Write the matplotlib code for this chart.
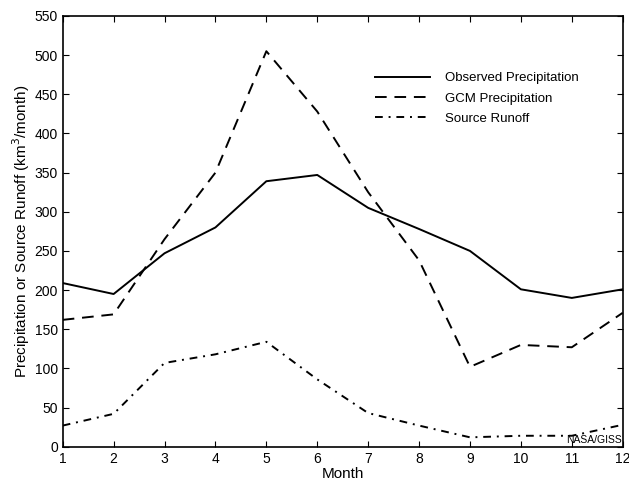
import matplotlib
matplotlib.use("Agg")
import matplotlib.pyplot as plt

plt.rcParams['font.family'] = ['Liberation Sans', 'DejaVu Sans']

months = list(range(1, 13))
observed = [209, 195, 247, 280, 339, 347, 305, 278, 250, 201, 190, 201]
gcm = [162, 169, 265, 350, 505, 428, 325, 238, 102, 130, 127, 171]
runoff = [27, 42, 107, 118, 134, 86, 43, 27, 12, 14, 14, 28]

fig = plt.figure(figsize=(6.29, 4.84), dpi=100)
ax = fig.add_axes([0.0997, 0.077, 0.8903, 0.890])

ax.plot(months, observed, color='black', lw=1.4, label='Observed Precipitation')
ax.plot(months, gcm, color='black', lw=1.4, dashes=(6, 4), label='GCM Precipitation')
ax.plot(months, runoff, color='black', lw=1.4, dashes=(4, 3, 1, 3), label='Source Runoff')

ax.set_xlim(1, 12)
ax.set_ylim(0, 550)
ax.set_xticks(months)
ax.set_yticks(range(0, 551, 50))
ax.tick_params(direction='in', top=True, right=True, labelsize=10, length=4)
for s in ax.spines.values():
    s.set_linewidth(1.2)

ax.set_xlabel('Month', fontsize=11, labelpad=1)
ax.set_ylabel('Precipitation or Source Runoff (km$^3$/month)', fontsize=11, labelpad=2)

ax.legend(loc='upper right', bbox_to_anchor=(0.942, 0.897), frameon=False,
          fontsize=9.5, handlelength=4.2, handletextpad=1.1, labelspacing=0.6)

ax.text(0.998, 0.004, 'NASA/GISS', transform=ax.transAxes, ha='right', va='bottom', fontsize=7.5)

fig.savefig('out.png', dpi=100)
